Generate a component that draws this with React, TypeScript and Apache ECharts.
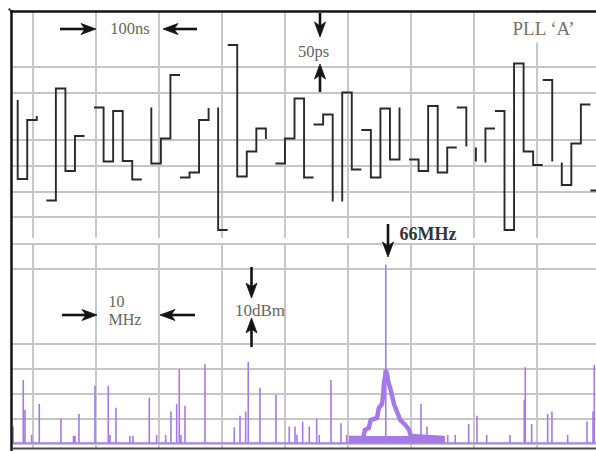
import React, { useEffect, useRef } from "react";
import * as echarts from "echarts";

// PLL 'A' clock: 66 MHz carrier, one jitter step per clock cycle
const CARRIER_MHZ = 66;
const CLOCK_PERIOD_NS = 1000 / CARRIER_MHZ;
const FIRST_EDGE_NS = -24.3;

// Jitter trace, split into runs. Each run starts at a clock-cycle index and holds
// the per-cycle timing error (ps). Lead / trail are the edges into and out of a run.
const runStartCycle = [0, 3, 8, 14, 17, 21, 22, 27, 31, 34, 36, 41, 46, 48, 49, 50, 55, 57, 60];
const runLeadPs: (number | null)[] = [84, null, null, 69, null, 69, null, null, null, -119, null, null, null, -11, -41, null, null, -41, null];
const runValuesPs: number[][] = [
  [-74, 44],
  [-117, 107, -58, 12],
  [69, -39, 62, -38, -75],
  [-43, 7, 134],
  [-71, -61, 44],
  [-176],
  [194, -69, -19, 27],
  [-43, 7, 87, -71],
  [35, 55],
  [99, -55],
  [24, -71, 67, -35],
  [-35, -58, 72, -61, -11],
  [69],
  [],
  [27],
  [62, -176, 157, -19, -46],
  [124],
  [-86, -3, 75],
  [-97],
];
const runTrailPs: (number | null)[] = [52, null, null, null, 68, null, 6, null, -119, null, 69, null, -9, -39, null, null, -39, null, null];

// Graticule positions
const timeDivNs = [0, 100, 200, 300, 400, 500, 600, 700, 800];
const jitterDivPs = [150, 98, 4, -48, -100, -150];
const freqDivMHz = [10, 20, 30, 40, 50, 60, 70, 80, 90];
const levelDivDbm = [0, -10, -40, -50, -60, -70, -80];

// Spectrum: noise floor, discrete spurs and the carrier
const NOISE_FLOOR_DBM = -79.6;
const spikeFreqMHz = [
  6.85, 8.46, 8.73, 9.79, 11.0, 14.44, 16.43, 16.67, 17.3, 19.84, 21.95, 22.22, 23.17, 25.4, 25.87,
  28.46, 29.63, 31.06, 31.9, 32.81, 33.22, 33.49, 34.13, 37.3, 41.95, 42.86, 43.76, 44.17, 46.03,
  48.57, 50.68, 51.59, 51.9, 52.81, 53.86, 55.03, 55.44, 57.3, 58.89, 59.79, CARRIER_MHZ, 71.59,
  72.54, 75.83, 77.03, 79.16, 80.48, 82.02, 85.71, 87.98, 88.14, 89.16, 91.7, 92.38, 94.87, 97.94,
  98.9, 99.1,
];
const spikeLevelDbm = [
  -73, -54.4, -66.4, -76.4, -64, -70, -76.7, -76.7, -68, -56.8, -56.8, -76.4, -65.5, -76.7, -76.7,
  -61.5, -76.4, -76.4, -67, -64, -50.1, -76.4, -64.7, -48.1, -73.3, -68.7, -67, -47.1, -57.5,
  -60.4, -73, -73, -76.4, -71, -73, -70, -76.4, -54.4, -71.7, -76.4, -8.2, -64,
  -73, -76.4, -76.4, -72, -68.7, -76.4, -76.4, -62.4, -49.3, -72, -68, -67, -76.4, -71,
  -67, -48.4,
];
// Phase-noise skirt around the carrier
const skirtFreqMHz = [
  60.2, 62.4, 62.7, 63.3, 63.6, 64.6, 64.9, 65.4, 65.6, 65.7, 65.9, 66.0,
  66.2, 66.4, 66.7, 67.0, 67.3, 67.8, 68.3, 69.1, 69.7, 70.0, 75.2,
];
const skirtLevelDbm = [
  -77.6, -77.6, -74.4, -73.6, -70.4, -69.6, -65.6, -64.0, -60.0, -56.0, -52.8, -50.4,
  -52.0, -55.2, -57.6, -60.8, -64.0, -67.2, -70.4, -72.4, -74.4, -76.8, -77.6,
];
const skirtBaseMHz = [60.16, 75.4];
const SKIRT_BASE_DBM = -78.2;

// Axis extents
const TIME_MIN = -33.33;
const TIME_MAX = 893.65;
const JITTER_MIN = -192;
const JITTER_MAX = 260;
const FREQ_MIN = 6.67;
const FREQ_MAX = 99.37;
const LEVEL_MIN = -81.6;
const LEVEL_MAX = 0;

const PURPLE = "#a57ae8";
const GRID = "#c6c6c6";
const INK = "#141414";
const LABEL = "#66665e";
const SERIF = '"Liberation Serif", "DejaVu Serif", serif';

function edgeNs(k: number) {
  return FIRST_EDGE_NS + k * CLOCK_PERIOD_NS;
}

function buildJitterTrace() {
  const pts: (number | null)[][] = [];
  runStartCycle.forEach((start, r) => {
    const vals = runValuesPs[r];
    const lead = runLeadPs[r];
    const trail = runTrailPs[r];
    if (lead != null) pts.push([edgeNs(start), lead]);
    vals.forEach((v, i) => {
      pts.push([edgeNs(start + i), v]);
      pts.push([edgeNs(start + i + 1), v]);
    });
    if (trail != null) pts.push([edgeNs(start + vals.length), trail]);
    pts.push([edgeNs(start + vals.length), null]);
  });
  return pts;
}

function buildSpectrumTrace() {
  const order = spikeFreqMHz.map((_, i) => i).sort((a, b) => spikeFreqMHz[a] - spikeFreqMHz[b]);
  const pts: number[][] = [[FREQ_MIN, NOISE_FLOOR_DBM]];
  order.forEach((i) => {
    const f = spikeFreqMHz[i];
    pts.push([f, NOISE_FLOOR_DBM], [f, spikeLevelDbm[i]], [f, NOISE_FLOOR_DBM]);
  });
  pts.push([FREQ_MAX, NOISE_FLOOR_DBM]);
  return pts;
}

function arrow(x1: number, y1: number, x2: number, y2: number) {
  const dx = x2 - x1;
  const dy = y2 - y1;
  const len = Math.hypot(dx, dy);
  const ux = dx / len;
  const uy = dy / len;
  const headLen = 15;
  const half = 5.5;
  const notch = 4;
  const bx = x2 - ux * headLen;
  const by = y2 - uy * headLen;
  return [
    {
      type: "line",
      shape: { x1, y1, x2: bx + ux * notch, y2: by + uy * notch },
      style: { stroke: INK, lineWidth: 2.6 },
      z: 100,
    },
    {
      type: "polygon",
      shape: {
        points: [
          [x2, y2],
          [bx - uy * half, by + ux * half],
          [bx + ux * notch, by + uy * notch],
          [bx + uy * half, by - ux * half],
        ],
      },
      style: { fill: INK, stroke: INK, lineWidth: 0.8 },
      z: 100,
    },
  ];
}

function label(text: string, x: number, y: number, size: number, opts: any = {}) {
  const align = opts.align || "center";
  return {
    type: "text",
    z: 101,
    style: {
      text,
      x,
      y,
      fill: opts.color || LABEL,
      fontSize: size,
      fontFamily: SERIF,
      fontWeight: opts.bold ? "bold" : "normal",
      align,
      verticalAlign: "middle",
      textAlign: align,
      textVerticalAlign: "middle",
    },
  };
}

function gridLines(xs: number[], ys: number[]) {
  return {
    symbol: ["none", "none"],
    silent: true,
    animation: false,
    label: { show: false },
    emphasis: { disabled: true },
    lineStyle: { color: GRID, width: 1.9, type: "solid", opacity: 1 },
    data: [...xs.map((v) => ({ xAxis: v })), ...ys.map((v) => ({ yAxis: v }))],
  };
}

export default function App() {
  const ref = useRef<HTMLDivElement>(null);

  useEffect(() => {
    if (!ref.current) return;
    const chart = echarts.init(ref.current, undefined, { renderer: "svg" });

    const option: any = {
      animation: false,
      backgroundColor: "#ffffff",
      grid: [
        { left: 12, top: 12, width: 584, height: 226 },
        { left: 12, top: 244, width: 584, height: 204 },
      ],
      xAxis: [
        { type: "value", gridIndex: 0, min: TIME_MIN, max: TIME_MAX, show: false },
        { type: "value", gridIndex: 1, min: FREQ_MIN, max: FREQ_MAX, show: false },
      ],
      yAxis: [
        { type: "value", gridIndex: 0, min: JITTER_MIN, max: JITTER_MAX, show: false },
        { type: "value", gridIndex: 1, min: LEVEL_MIN, max: LEVEL_MAX, show: false },
      ],
      series: [
        {
          name: "time graticule",
          type: "line",
          xAxisIndex: 0,
          yAxisIndex: 0,
          data: [],
          silent: true,
          z: 1,
          markLine: gridLines(timeDivNs, jitterDivPs),
        },
        {
          name: "frequency graticule",
          type: "line",
          xAxisIndex: 1,
          yAxisIndex: 1,
          data: [],
          silent: true,
          z: 1,
          markLine: gridLines(freqDivMHz, levelDivDbm),
        },
        {
          name: "jitter",
          type: "line",
          xAxisIndex: 0,
          yAxisIndex: 0,
          data: buildJitterTrace(),
          showSymbol: false,
          connectNulls: false,
          silent: true,
          z: 5,
          lineStyle: { color: "#2a2a2a", width: 1.9, join: "miter" },
        },
        {
          name: "skirt base",
          type: "line",
          xAxisIndex: 1,
          yAxisIndex: 1,
          data: skirtBaseMHz.map((f) => [f, SKIRT_BASE_DBM]),
          showSymbol: false,
          silent: true,
          z: 5,
          lineStyle: { color: PURPLE, width: 7 },
        },
        {
          name: "skirt",
          type: "line",
          xAxisIndex: 1,
          yAxisIndex: 1,
          data: skirtFreqMHz.map((f, i) => [f, skirtLevelDbm[i]]),
          showSymbol: false,
          silent: true,
          z: 5,
          lineStyle: { color: PURPLE, width: 4.5, join: "miter" },
        },
        {
          name: "spectrum",
          type: "line",
          xAxisIndex: 1,
          yAxisIndex: 1,
          data: buildSpectrumTrace(),
          showSymbol: false,
          silent: true,
          z: 6,
          lineStyle: { color: PURPLE, width: 1.6 },
        },
      ],
      graphic: {
        elements: [
          // keeps the title clear of the graticule
          { type: "rect", z: 50, shape: { x: 503, y: 13.5, width: 86, height: 29 }, style: { fill: "#ffffff" } },
          // frame
          { type: "line", z: 102, shape: { x1: 10, y1: 11.5, x2: 596, y2: 11.5 }, style: { stroke: INK, lineWidth: 2.5 } },
          { type: "line", z: 102, shape: { x1: 11.5, y1: 10, x2: 11.5, y2: 451 }, style: { stroke: INK, lineWidth: 2.5 } },
          { type: "line", z: 102, shape: { x1: 12, y1: 448.5, x2: 596, y2: 448.5 }, style: { stroke: "#4a4a4a", lineWidth: 2 } },
          { type: "rect", z: 102, shape: { x: 8.5, y: 8.5, width: 2, height: 2 }, style: { fill: INK } },
          // time / jitter scale markers
          ...arrow(60, 29, 96, 29),
          ...arrow(197, 29, 163, 29),
          label("100ns", 130, 28.5, 16.5),
          ...arrow(320, 13, 320, 37),
          ...arrow(320, 92, 320, 64),
          label("50ps", 313.5, 51.5, 16.5),
          label("PLL \u2018A\u2019", 543.5, 28.5, 19, { color: "#74746c" }),
          // spectrum markers
          ...arrow(388, 224, 388, 257),
          label(`${CARRIER_MHZ}MHz`, 399.5, 234, 18, { bold: true, align: "left", color: "#353535" }),
          ...arrow(62, 315, 97, 315),
          ...arrow(195, 315, 160, 315),
          label("10", 108.5, 301.5, 16, { align: "left" }),
          label("MHz", 108.5, 319.5, 16, { align: "left" }),
          ...arrow(251.5, 267, 251.5, 298),
          ...arrow(251.5, 347, 251.5, 318),
          label("10dBm", 260, 310.5, 17),
        ],
      },
    };

    chart.setOption(option);
    return () => chart.dispose();
  }, []);

  return (
    <div
      ref={ref}
      style={{ position: "absolute", left: 0, top: 0, width: 596, height: 451, background: "#ffffff" }}
    />
  );
}
